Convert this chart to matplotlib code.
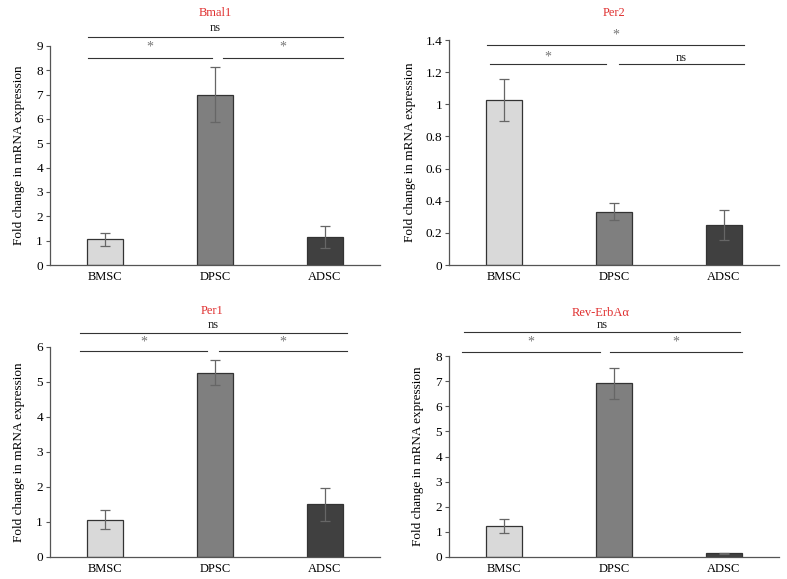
import matplotlib
matplotlib.use("Agg")
import matplotlib.pyplot as plt

plt.rcParams['font.family'] = ['Liberation Serif', 'DejaVu Serif']

categories = ["BMSC", "DPSC", "ADSC"]
colors = ["#d9d9d9", "#7f7f7f", "#404040"]

titles = ["Bmal1", "Per2", "Per1", "Rev-ErbAα"]
bmal1_vals = [1.05, 7.0, 1.15]
bmal1_err = [0.25, 1.13, 0.45]
per2_vals = [1.025, 0.33, 0.25]
per2_err = [0.13, 0.053, 0.093]
per1_vals = [1.07, 5.27, 1.5]
per1_err = [0.28, 0.37, 0.48]
rev_vals = [1.25, 6.92, 0.14]
rev_err = [0.28, 0.62, 0.03]

ylims = [9, 1.4, 6, 8]
yticks = [
    [0, 1, 2, 3, 4, 5, 6, 7, 8, 9],
    [0, 0.2, 0.4, 0.6, 0.8, 1.0, 1.2, 1.4],
    [0, 1, 2, 3, 4, 5, 6],
    [0, 1, 2, 3, 4, 5, 6, 7, 8],
]
yticklabels = [
    ["0", "1", "2", "3", "4", "5", "6", "7", "8", "9"],
    ["0", "0.2", "0.4", "0.6", "0.8", "1", "1.2", "1.4"],
    ["0", "1", "2", "3", "4", "5", "6"],
    ["0", "1", "2", "3", "4", "5", "6", "7", "8"],
]
# brackets: (x0, x1, y, label, label_y)
brackets = [
    [(-0.15, 2.16, 9.37, "ns", 9.72), (-0.15, 0.97, 8.5, "*", 8.95), (1.07, 2.16, 8.5, "*", 8.95)],
    [(-0.15, 2.18, 1.37, "*", 1.43), (-0.13, 0.93, 1.25, "*", 1.295), (1.05, 2.18, 1.25, "ns", 1.29)],
    [(-0.23, 2.2, 6.4, "ns", 6.62), (-0.23, 0.93, 5.89, "*", 6.15), (1.04, 2.2, 5.89, "*", 6.15)],
    [(-0.36, 2.15, 8.96, "ns", 9.25), (-0.38, 0.87, 8.17, "*", 8.55), (0.96, 2.16, 8.17, "*", 8.55)],
]
title_pos = [(215, 13), (614, 13), (212, 311), (601, 313)]
labelpads = [8, 7, 8, 8]

values = [bmal1_vals, per2_vals, per1_vals, rev_vals]
errors = [bmal1_err, per2_err, per1_err, rev_err]

W, H = 787, 579
fig = plt.figure(figsize=(W / 100, H / 100), dpi=100)
positions = [
    [0.0635, 0.5423, 0.4193, 0.3783],
    [0.5705, 0.5423, 0.4193, 0.3886],
    [0.0635, 0.0380, 0.4193, 0.3627],
    [0.5705, 0.0380, 0.4193, 0.3471],
]

for i in range(4):
    ax = fig.add_axes(positions[i])
    x = list(range(len(categories)))
    ax.bar(x, values[i], width=0.32, color=colors, edgecolor="#333333", linewidth=0.9, zorder=2)
    ax.errorbar(x, values[i], yerr=errors[i], fmt="none", ecolor="#666666",
                elinewidth=0.9, capsize=3.5, capthick=0.9, zorder=3)
    ax.set_xlim(-0.5, 2.5)
    ax.set_ylim(0, ylims[i])
    ax.set_yticks(yticks[i])
    ax.set_yticklabels(yticklabels[i], fontsize=9.5)
    ax.set_xticks(x)
    ax.set_xticklabels(categories, fontsize=9)
    ax.tick_params(axis="x", length=0, pad=4)
    ax.tick_params(axis="y", length=3, width=0.8, color="#555555", pad=2)
    for s in ["top", "right"]:
        ax.spines[s].set_visible(False)
    for s in ["left", "bottom"]:
        ax.spines[s].set_color("#555555")
        ax.spines[s].set_linewidth(0.9)
    ax.set_ylabel("Fold change in mRNA expression", fontsize=9.5, labelpad=labelpads[i])
    for (x0, x1, y, lab, ly) in brackets[i]:
        ax.plot([x0, x1], [y, y], color="#333333", linewidth=0.8, clip_on=False)
        if lab == "ns":
            ax.text((x0 + x1) / 2, ly, lab, ha="center", va="center",
                    fontsize=9, color="#222222", clip_on=False)
        else:
            ax.text((x0 + x1) / 2, ly, lab, ha="center", va="center",
                    fontsize=10, color="#777777", clip_on=False)
    tx, ty = title_pos[i]
    fig.text(tx / W, 1 - ty / H, titles[i], color="#e03030", fontsize=9,
             ha="center", va="center")

fig.savefig("out.png", dpi=100)
